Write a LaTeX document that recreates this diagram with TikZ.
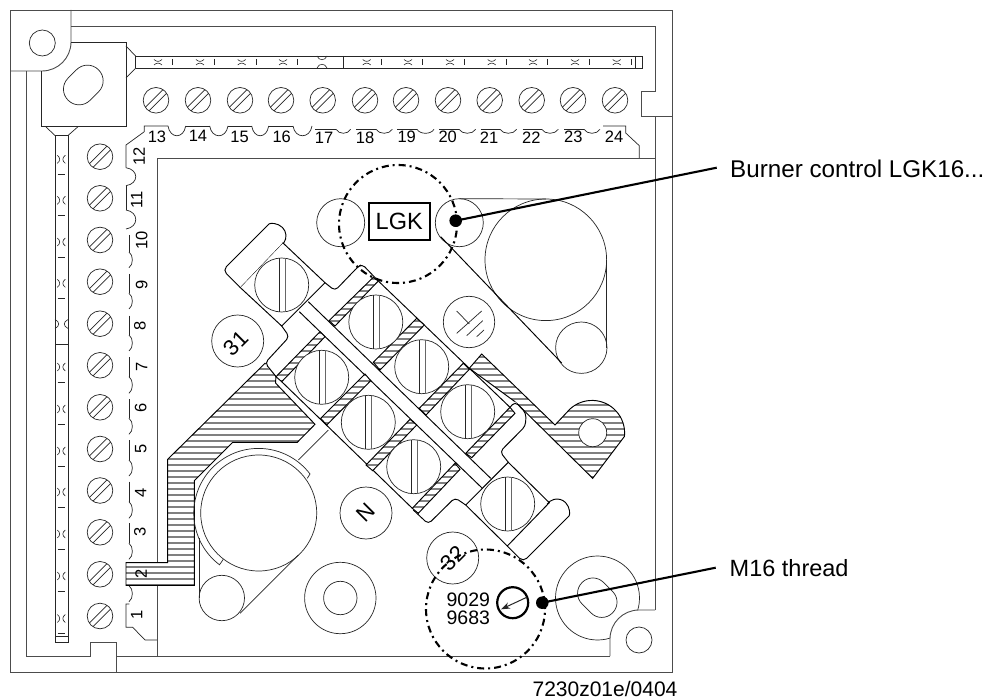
\documentclass[tikz,border=0pt]{standalone}
\usepackage{fontspec}
\usetikzlibrary{arrows.meta}
\setmainfont{Liberation Sans}
\tikzset{
  edge/.style={draw=black!85,line width=0.7pt,line join=miter},
  frameln/.style={draw=black!70,line width=0.9pt},
  heavy/.style={draw=black,line width=0.95pt},
  bar/.style={draw=black!50,line width=1.9pt},
  dashring/.style={draw=black,line width=2.1pt,dash pattern=on 7pt off 4pt on 2pt off 4pt},
  leader/.style={draw=black,line width=2.1pt},
  dotnode/.style={circle,fill=black,inner sep=0pt,minimum size=12.6pt},
  num/.style={inner sep=0pt,font=\fontsize{16.5}{18}\selectfont},
  label/.style={inner sep=0pt,font=\fontsize{23.5}{26}\selectfont},
  circ/.style={inner sep=0pt,font=\fontsize{22}{24}\selectfont,rotate=45},
}
\newcommand\hatched[1]{%
  \fill[white] #1;
  \begin{scope}\clip #1;
    \foreach \yy in {273,279,...,597}{\draw[bar] (100,\yy)--(640,\yy);}
  \end{scope}
  \draw[heavy] #1;}
\newcommand\bigscrew[2]{%
  \draw[edge,fill=white] (#1,#2) circle[radius=27];
  \draw[edge] (#1-2.8,#2-26.8)--(#1-2.8,#2+26.8);
  \draw[edge,draw=black!60] (#1+3.2,#2-26.8)--(#1+3.2,#2+26.8);}
\newcommand\smallscrew[2]{%
  \draw[edge] (#1,#2) circle[radius=12.8];
  \draw[edge] (#1-10.7,#2+7.1)--(#1+7.1,#2-10.7);
  \draw[edge] (#1-7.1,#2+10.7)--(#1+10.7,#2-7.1);}
\begin{document}
\begin{tikzpicture}[x=1pt,y=-1pt]
\useasboundingbox (0,0) rectangle (998,700);
\fill[white] (0,0) rectangle (998,700);
% frame
\draw[frameln] (10,10) rectangle (672,672);
\draw[frameln] (71,10)--(71,42) arc[start angle=0,end angle=90,radius=29]--(10,71);
\draw[frameln] (26.7,71)--(26.7,656)--(90,656)--(90,642)--(116,642)--(116,672);
\draw[frameln] (116,656)--(610,656);
\draw[frameln] (71,26.7)--(655,26.7)--(655,91)--(641.7,91)--(641.7,116.7)--(672,116.7);
\draw[frameln] (655,116.7)--(655,610);
\draw[edge] (42.3,43) circle[radius=13];
% corner screw block
\draw[edge] (71,42.7)--(126,42.7)--(126,126.7)--(41.7,126.7)--(41.7,71);
\draw[edge,rounded corners=15.4pt,shift={(83.3,85)},rotate=45] (-21.5,-15.6) rectangle (21.5,15.6);
% top strip
\draw[edge] (126,46)--(135.5,56)--(135.5,68.3)--(126,78);
\draw[edge] (135.5,56)--(642.7,56)--(642.7,68.3)--(135.5,68.3);
\draw[edge] (343.3,56)--(343.3,68.3);
\draw[edge] (635,56)--(635,68.3);
\foreach \xx in {158,200,241.7,283,366.7,408,450,491.7,533,575,616.7}{
  \draw[edge,line width=0.6pt] (\xx-4,59.5) .. controls (\xx-1.5,62) and (\xx+1.5,62) .. (\xx+4,59.5);
  \draw[edge,line width=0.6pt] (\xx-4,65) .. controls (\xx-1.5,62.5) and (\xx+1.5,62.5) .. (\xx+4,65);
  \draw[edge,line width=0.6pt] (\xx+14.7,59)--(\xx+14.7,65);
}
\draw[edge,line width=0.6pt] (317,56) .. controls (319,61) and (325,61) .. (327,56);
\draw[edge,line width=0.6pt] (317,68) .. controls (319,63) and (325,63) .. (327,68);
% left strip
\draw[edge] (45.7,126.7)--(55,135.5)--(68,135.5)--(78,126.7);
\draw[edge] (55,135.5)--(55,642.7)--(68,642.7)--(68,135.5);
\draw[edge] (55,344.3)--(68,344.3);
\draw[edge] (55,636.7)--(68,636.7);
\foreach \yy in {159.3,200.3,242,283.3,367,409,451,492,534,576,618.5}{
  \draw[edge,line width=0.6pt] (57.3,\yy-4) .. controls (60.5,\yy-1.5) and (60.5,\yy+1.5) .. (57.3,\yy+4);
  \draw[edge,line width=0.6pt] (65.3,\yy-4) .. controls (62,\yy-1.5) and (62,\yy+1.5) .. (65.3,\yy+4);
  \draw[edge,line width=0.6pt] (57.7,\yy+15.2)--(65.3,\yy+15.2);
}
\draw[edge,line width=0.6pt] (55,319.5) .. controls (60,322) and (60,326) .. (55,328.5);
\draw[edge,line width=0.6pt] (68,319.5) .. controls (63,322) and (63,326) .. (68,328.5);
% small screws
\foreach \xx in {156,198,240,281,322.7,365,406,448,489.7,531.7,573,615}{\smallscrew{\xx}{100.3}}
\foreach \yy in {156.7,198.3,240,281.7,323.7,365.3,407.3,449,490.5,532.3,574.3,616}{\smallscrew{100}{\yy}}
% scalloped edge, top
\draw[edge] (126,167.7)--(126,145)--(144.3,131.7)--(144.3,126)--(168,126);
\foreach \a/\b in {168/185.7,209.7/228,251.7/268.7,293/312}
  \draw[edge] (\a,126) .. controls (\a+2,139) and (\b-2,139) .. (\b,126);
\foreach \a/\b in {185.7/209.7,228/251.7,268.7/293}
  \draw[edge] (\a,126)--(\b,126);
\foreach \a/\b in {336/350.7,376/392.3,417/434,459/475.7,500/516.7,541.7/558.3,584/600}
  \draw[edge] (\a,129.3) .. controls (\a+3,134.6) and (\b-3,134.6) .. (\b,129.3);
\foreach \a/\b in {315/336,356/376,397.3/417,439/459,480.7/500,522.7/541.7,564/584}
  \draw[edge] (\a,129.3)--(\b,129.3);
\draw[edge] (603,126)--(625.7,126)--(625.7,133)--(639.3,145.7)--(639.3,158.3);
% scalloped edge, left
\foreach \a/\b in {167.7/185.7,210/229}
  \draw[edge] (126,\a) .. controls (139,\a+2) and (139,\b-2) .. (126,\b);
\draw[edge] (126,185.7)--(126,210);
\foreach \a/\b in {252/267.7,293.3/309,335/351,376.7/393.3,418.3/434.3,460/476,501.7/518.3,543.3/559.3,585.7/601.7}
  \draw[edge] (129,\a) .. controls (133.5,\a+3) and (133.5,\b-3) .. (129,\b);
\foreach \a/\b in {235/252,274/293.3,315.7/335,357.3/376.7,399/418.3,440/460,481.7/501.7,523.3/543.3}
  \draw[edge] (129,\a)--(129,\b);
\draw[edge] (129.3,604)--(126,604)--(126,627.3)--(132.7,627.3)--(145,640)--(157.7,640);
% inner rectangle
\draw[frameln] (655,158.3)--(157.7,158.3)--(157.7,656);
% lower-left hatched conductor
\hatched{(126,562.7)--(167.7,562.7)--(167.7,459.3)--(265,363.3)--(276,376)--(275.5,383)--(315,424.3)--(297.3,442.3)--(232.7,442.3)--(194.3,480.7)--(194.3,585.3)--(126,585.3)--cycle}
% right hatched conductor
\hatched{(469.3,368.3)--(481.7,354)--(555,425)--(570,409) arc[start angle=227.5,end angle=366,radius=32.6]--(592.7,478.3)--(515,401.7)--cycle}
\draw[edge,fill=white] (592.7,432.7) circle[radius=14];
% LGK mount
\draw[edge] (340.7,222.7) circle[radius=24];
\draw[edge] (459.3,222.7) circle[radius=24];
\draw[edge] (545.8,259.8) circle[radius=60.8];
\draw[edge] (581.3,347.7) circle[radius=25.7];
\draw[edge] (459.3,198.7)--(545.8,199);
\draw[edge] (606.7,260)--(606.7,348);
\draw[heavy] (440.7,236.7)--(561.7,363);
% lower-left mount
\draw[edge] (258.7,513) circle[radius=58];
\draw[edge] (307.3,478.3)--(310,474) arc[start angle=-37.2,end angle=-233,radius=64.7]--(223.3,559.3);
\draw[edge] (221.8,598) circle[radius=22.7];
\draw[edge] (199.3,538)--(199.3,598);
\draw[edge] (240,613.3)--(298.3,555);
\draw[edge] (298.3,460)--(328.3,430);
% right hole with corner
\draw[edge] (597.5,598) circle[radius=42];
\fill[white] (610,656)--(610,639) arc[start angle=180,end angle=270,radius=29]--(655,610)--(655,656)--cycle;
\draw[frameln] (610,656)--(610,639) arc[start angle=180,end angle=270,radius=29]--(655,610);
\draw[edge] (639,640) circle[radius=13];
\draw[edge,rounded corners=15pt,shift={(597.3,597.7)},rotate=-45] (-21.5,-15.2) rectangle (21.5,15.2);
% washer
\draw[edge] (340.3,598) circle[radius=35.7];
\draw[edge] (340.3,598) circle[radius=16.7];
% terminal block: tabs
\fill[white] (289.3,336.7)--(265,365)--(276,376)--(320,331.7)--cycle;
\draw[heavy,rounded corners=4pt] (281.7,326)--(289.3,336.7)--(265,363)--(276,376.5);
\draw[heavy,rounded corners=4pt] (325,282.7)--(335,290.7)--(357.5,267.3)--(362,264)--(378.3,281);
\fill[white] (515,401.7)--(526,414)--(525.5,426)--(500,451.7)--(508.3,462.3)--(465.7,453.3)--(510,407.3)--cycle;
\draw[heavy,rounded corners=4pt] (510,407.3)--(515,401.7)--(526,413)--(525.5,426)--(500,451.7)--(508.3,462.3);
\draw[heavy,rounded corners=4pt] (465.7,505)--(455,497.7)--(428.3,524)--(413.3,510);
% block edges
\draw[heavy] (378.3,281)--(510,407.3);
\draw[heavy] (281.7,381.7)--(412.3,508.3);
% central bar
\draw[heavy] (308.3,301.7)--(490.7,478.3);
\draw[heavy] (299.3,311.7)--(481.7,487.7);
% end blocks
\draw[heavy] (325,282.7)--(281.7,326)--(240,287.3)--(282.7,242.7)--(325,282.7);
\draw[heavy] (508.3,462.3)--(465.7,505)--(507.3,546)--(549.3,502.7)--cycle;
\draw[heavy,fill=white,rounded corners=5pt] (240,287.3)--(222.85,270.15)--(265.5,227.5)[sharp corners] arc[start angle=225,end angle=395,radius=12]--(282.7,242.7);
\draw[heavy,rounded corners=5pt] (507.3,546)--(523.15,561.85)--(565.5,519.5)[sharp corners] arc[start angle=45,end angle=-145,radius=12]--(549.3,502.7);
% hatched strips
\hatched{(373.3,277.3)--(378.3,281)--(335,326)--(329,320.7)--cycle}
\hatched{(416.7,318.3)--(424.3,325)--(380,370)--(373.3,362.3)--cycle}
\hatched{(463.3,363.3)--(469.3,369.3)--(426,415)--(419.3,408.3)--cycle}
\hatched{(510,407.3)--(515,413.3)--(471.7,457.7)--(465.7,453.3)--cycle}
\hatched{(320,331.7)--(325,336.7)--(281.7,381.7)--(276,376.7)--cycle}
\hatched{(365,374)--(370.7,380.7)--(326.7,425)--(320.7,418.3)--cycle}
\hatched{(410,419.3)--(416.7,425)--(372.7,470.7)--(366,465)--cycle}
\hatched{(455,463.3)--(460,469.3)--(418.3,513.3)--(412.3,508.3)--cycle}
% big screws
\bigscrew{281.7}{285}
\bigscrew{375.8}{322}
\bigscrew{421.7}{366.7}
\bigscrew{467.7}{411.7}
\bigscrew{321.7}{377.3}
\bigscrew{368.3}{422.3}
\bigscrew{413.7}{466.7}
\bigscrew{507.7}{504}
% marked circles
\draw[edge] (237.7,341) circle[radius=26];
\node[circ] (n31) at (236,343) {31};
\draw[edge] (366,513) circle[radius=26];
\node[circ] (nN) at (366,513) {N};
\draw[edge] (469,322) circle[radius=25.7];
\draw[edge] (456.7,311)--(469.3,324);
\draw[edge] (456.7,333.3)--(481.7,311);
\draw[edge] (466.7,335.7)--(482.7,320.7);
\draw[edge] (476.7,336.7)--(484,330);
\draw[edge] (452.7,558) circle[radius=26];
\node[circ] (n32) at (452.7,558) {32};
% LGK box
\node[draw=black,line width=1.9pt,minimum width=61pt,minimum height=37pt,inner sep=0pt,label] (lgk) at (399.2,221.3) {LGK};
% thread symbol
\node[draw=black,line width=2.2pt,circle,minimum size=31pt,inner sep=0pt] (thr) at (512.7,602.7) {};
\coordinate (thrstart) at (526.7,597.3);
\coordinate (thrtip) at (501,609.3);
\draw[edge,line width=1pt,-{Stealth[length=9pt,width=6.5pt]}] (thrstart)--(thrtip);
\node[inner sep=0pt,font=\fontsize{19.5}{22}\selectfont] (t9029) at (468.3,599.7) {9029};
\node[inner sep=0pt,font=\fontsize{19.5}{22}\selectfont] (t9683) at (468.3,617.5) {9683};
% dashed rings
\node[circle,dashring,minimum size=118pt,inner sep=0pt] (ringa) at (398,224) {};
\node[circle,dashring,minimum size=119pt,inner sep=0pt] (ringb) at (485.5,609) {};
% labels
\node[dotnode] (dota) at (455.7,220.7) {};
\node[dotnode] (dotb) at (542.3,602.7) {};
\coordinate (enda) at (716.7,167.7);
\coordinate (endb) at (715.7,567.7);
\draw[leader] (dota.center)--(enda);
\draw[leader] (dotb.center)--(endb);
\node[inner sep=0pt,anchor=west,font=\fontsize{24.2}{26}\selectfont] (lblburner) at (730,169) {Burner control LGK16...};
\node[label,anchor=west] (lblthread) at (729.5,568.3) {M16 thread};
\node[inner sep=0pt,font=\fontsize{21}{24}\selectfont] (lblref) at (605,689) {7230z01e/0404};
% terminal numbers
\foreach \t/\xx/\yy in {13/157/137,14/198/136,15/239.5/137,16/281.7/137,17/324/138,18/365/137.7,19/406.7/136.7,20/447.7/136.7,21/489/138,22/531.3/138,23/573.3/137,24/614/137}
  \node[num] (top\t) at (\xx,\yy) {\t};
\foreach \t/\xx/\yy in {12/139/156.7,11/136.7/200,10/141.7/240,9/141.7/285,8/140/326,7/141.7/366.7,6/140.7/408,5/140.7/449,4/140.7/492.7,3/140/532,2/141/574,1/136.7/615}
  \node[num,rotate=90] (left\t) at (\xx,\yy) {\t};
\end{tikzpicture}
\end{document}
